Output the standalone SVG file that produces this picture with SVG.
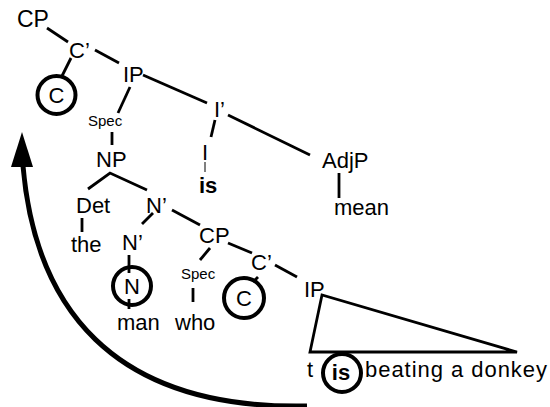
<svg xmlns="http://www.w3.org/2000/svg" width="550" height="407" viewBox="0 0 550 407">
<style>
text{font-family:"Liberation Sans",Arial,sans-serif;font-size:22px;fill:#000}
.s{font-size:15px}
.b{font-weight:bold}
.c{text-anchor:middle}
.e line,.e polyline,.e polygon{stroke:#000;stroke-width:2.8;fill:none;stroke-linecap:butt}
.ring{fill:none;stroke:#000;stroke-width:4}
</style>
<rect width="550" height="407" fill="#fff"/>
<g id="connectors" class="e">
<line x1="47" y1="28" x2="68" y2="42"/>
<line x1="95" y1="50" x2="119" y2="63"/>
<line x1="71" y1="58" x2="62" y2="76"/>
<line x1="143" y1="75" x2="207" y2="103"/>
<line x1="130" y1="87" x2="118" y2="113"/>
<line x1="112" y1="132" x2="112" y2="145"/>
<line x1="215" y1="120" x2="211" y2="137"/>
<line x1="205" y1="162" x2="205" y2="172" style="stroke-width:1"/>
<line x1="228" y1="115" x2="310" y2="155"/>
<line x1="339" y1="173" x2="339" y2="198"/>
<polyline points="88,189 110,173 147,190"/>
<line x1="82" y1="218" x2="82" y2="232"/>
<line x1="153" y1="213" x2="142" y2="224"/>
<line x1="172" y1="210" x2="200" y2="225"/>
<line x1="129" y1="255" x2="129" y2="273"/>
<line x1="129" y1="299" x2="129" y2="309"/>
<line x1="210" y1="248" x2="200" y2="260"/>
<line x1="193" y1="288" x2="193" y2="302"/>
<line x1="228" y1="243" x2="252" y2="253"/>
<line x1="258" y1="277" x2="253" y2="282"/>
<line x1="275" y1="265" x2="297" y2="277"/>
<polygon points="322,295 310,352 517,352"/>
<path d="M23,166 C35,305 110,410 307,406" style="fill:none;stroke:#000;stroke-width:5"/>
<polygon points="22,132 11,167 33,167" style="fill:#000;stroke:none"/>
</g>
<g id="n-cp"><text x="17" y="27" style="font-size:23px">CP</text></g>
<g id="n-cbar"><text x="69" y="58">C’</text></g>
<g id="n-c"><circle class="ring" cx="56.5" cy="95" r="19"/><text class="c" x="56.5" y="103">C</text></g>
<g id="n-ip"><text x="123" y="82">IP</text></g>
<g id="n-spec1"><text class="s" x="88" y="126">Spec</text></g>
<g id="n-np"><text x="96" y="167">NP</text></g>
<g id="n-ibar"><text x="214" y="117">I’</text></g>
<g id="n-i"><text x="202" y="160">I</text></g>
<g id="n-is"><text class="b" x="199" y="193">is</text></g>
<g id="n-adjp"><text x="322" y="168">AdjP</text></g>
<g id="n-mean"><text x="334" y="215">mean</text></g>
<g id="n-det"><text x="76" y="213">Det</text></g>
<g id="n-the"><text x="71" y="252">the</text></g>
<g id="n-nbar1"><text x="146" y="213">N’</text></g>
<g id="n-nbar2"><text x="122" y="250">N’</text></g>
<g id="n-n"><circle class="ring" cx="132" cy="286" r="19"/><text class="c" x="132" y="294">N</text></g>
<g id="n-man"><text x="117" y="330">man</text></g>
<g id="n-cp2"><text x="199" y="243">CP</text></g>
<g id="n-spec2"><text class="s" x="181" y="279">Spec</text></g>
<g id="n-who"><text x="175" y="330">who</text></g>
<g id="n-cbar2"><text x="251" y="270">C’</text></g>
<g id="n-c2"><circle class="ring" cx="244" cy="298" r="20"/><text class="c" x="244" y="306">C</text></g>
<g id="n-ip2"><text x="304" y="297">IP</text></g>
<g id="n-t"><text x="307" y="377">t</text></g>
<g id="n-is2"><circle class="ring" cx="342" cy="373" r="19"/><text class="c b" x="341" y="380">is</text></g>
<g id="n-rest"><text x="365" y="377" textLength="182">beating a donkey</text></g>
</svg>
